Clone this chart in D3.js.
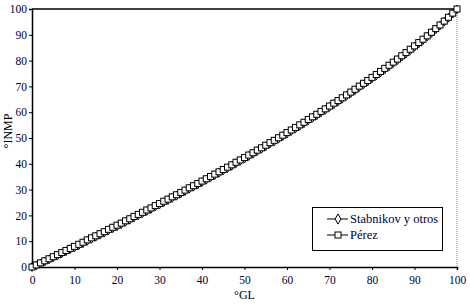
<!DOCTYPE html>
<html>
<head>
<meta charset="utf-8">
<script src="https://d3js.org/d3.v7.min.js"></script>
<style>
  body { margin: 0; background: #fff; }
  text { font-family: "Liberation Serif", "Times New Roman", serif; }
</style>
</head>
<body>
<svg id="chart" width="470" height="305"></svg>
<script>
// °GL values 0..100
var gl = d3.range(0, 101);
var xTicks = [0, 10, 20, 30, 40, 50, 60, 70, 80, 90, 100];
var yTicks = [0, 10, 20, 30, 40, 50, 60, 70, 80, 90, 100];

var perez = [0, 0.8, 1.6, 2.4, 3.2, 4.0, 4.8, 5.6, 6.4, 7.2, 8.0,
  8.8, 9.6, 10.5, 11.3, 12.1, 12.9, 13.7, 14.6, 15.4, 16.2,
  17.0, 17.9, 18.7, 19.6, 20.4, 21.2, 22.1, 22.9, 23.8, 24.6,
  25.5, 26.3, 27.2, 28.0, 28.9, 29.8, 30.7, 31.5, 32.4, 33.3,
  34.2, 35.1, 36.0, 36.9, 37.8, 38.7, 39.6, 40.6, 41.5, 42.4,
  43.4, 44.3, 45.3, 46.2, 47.2, 48.2, 49.1, 50.1, 51.1, 52.1,
  53.1, 54.1, 55.1, 56.1, 57.2, 58.2, 59.2, 60.3, 61.3, 62.4,
  63.5, 64.5, 65.6, 66.7, 67.8, 68.9, 70.1, 71.2, 72.3, 73.5,
  74.6, 75.8, 77.0, 78.2, 79.4, 80.6, 81.9, 83.1, 84.4, 85.7,
  87.0, 88.3, 89.6, 91.0, 92.4, 93.8, 95.3, 96.8, 98.4, 100];

var stabnikov = [0, 0.6, 1.4, 2.2, 2.9, 3.7, 4.5, 5.3, 6.1, 6.9, 7.6,
  8.4, 9.2, 10.1, 10.9, 11.7, 12.5, 13.3, 14.2, 15.0, 15.8,
  16.6, 17.5, 18.3, 19.2, 20.0, 20.8, 21.7, 22.5, 23.4, 24.2,
  25.1, 25.9, 26.8, 27.6, 28.5, 29.4, 30.3, 31.1, 32.0, 32.9,
  33.8, 34.7, 35.6, 36.5, 37.4, 38.3, 39.2, 40.2, 41.1, 42.0,
  43.0, 43.9, 44.9, 45.8, 46.8, 47.8, 48.7, 49.7, 50.7, 51.7,
  52.7, 53.7, 54.7, 55.7, 56.8, 57.8, 58.8, 59.9, 60.9, 62.0,
  63.1, 64.1, 65.2, 66.3, 67.4, 68.5, 69.7, 70.8, 71.9, 73.1,
  74.2, 75.4, 76.6, 77.8, 79.0, 80.2, 81.5, 82.7, 84.0, 85.3,
  86.6, 87.9, 89.3, 90.7, 92.1, 93.6, 95.1, 96.6, 98.2, 99.8];

var seriesNames = ["Stabnikov y otros", "Pérez"];

var svg = d3.select("#chart");
var L = 32, R = 457, T = 9, B = 267;
var x = d3.scaleLinear().domain([0, 100]).range([L, R]);
var y = d3.scaleLinear().domain([0, 100]).range([B, T]);

// frame: top solid, right dotted
svg.append("line").attr("x1", L).attr("x2", R).attr("y1", T).attr("y2", T)
  .attr("stroke", "#000").attr("stroke-width", 1.5);
svg.append("line").attr("x1", R).attr("x2", R).attr("y1", T).attr("y2", B)
  .attr("stroke", "#888").attr("stroke-dasharray", "1,1");

var xAxis = svg.append("g").attr("transform", "translate(0," + B + ")")
  .call(d3.axisBottom(x).tickValues(xTicks).tickSize(3).tickPadding(6).tickFormat(d3.format("d")));
var yAxis = svg.append("g").attr("transform", "translate(" + L + ",0)")
  .call(d3.axisLeft(y).tickValues(yTicks).tickSize(3).tickPadding(2).tickFormat(d3.format("d")));

[xAxis, yAxis].forEach(function(g) {
  g.select(".domain").attr("stroke", "#000").attr("stroke-width", 1.5);
  g.selectAll(".tick line").attr("stroke", "#000");
  g.selectAll(".tick text").attr("fill", "#000033").style("font-size", "11.5px")
    .style("font-family", "'Liberation Serif', serif");
});

svg.append("text").attr("x", x(50)).attr("y", 299).attr("text-anchor", "middle")
  .style("font-size", "12px").text("°GL");
svg.append("text").attr("transform", "translate(12,131) rotate(-90)")
  .attr("text-anchor", "middle").style("font-size", "12px").text("°INMP");

var line = d3.line().x(function(d) { return x(d[0]); }).y(function(d) { return y(d[1]); });
var sData = gl.map(function(v, i) { return [v, stabnikov[i]]; });
var pData = gl.map(function(v, i) { return [v, perez[i]]; });

svg.append("path").datum(sData).attr("d", line).attr("fill", "none")
  .attr("stroke", "#000").attr("stroke-width", 1.5);
var diamond = d3.symbol().type(d3.symbolDiamond).size(22);
svg.selectAll(".dia").data(sData).enter().append("path").attr("class", "dia")
  .attr("d", diamond).attr("transform", function(d) { return "translate(" + x(d[0]) + "," + y(d[1]) + ")"; })
  .attr("fill", "#fff").attr("stroke", "#000").attr("stroke-width", 1);

svg.append("path").datum(pData).attr("d", line).attr("fill", "none")
  .attr("stroke", "#000").attr("stroke-width", 1);
svg.selectAll(".sq").data(pData).enter().append("rect").attr("class", "sq")
  .attr("x", function(d) { return x(d[0]) - 3; }).attr("y", function(d) { return y(d[1]) - 3; })
  .attr("width", 6).attr("height", 6)
  .attr("fill", "#fff").attr("stroke", "#000").attr("stroke-width", 1);

// legend
var lg = svg.append("g");
lg.append("rect").attr("x", 312.5).attr("y", 207.5).attr("width", 130).attr("height", 43)
  .attr("fill", "#fff").attr("stroke", "#000");
seriesNames.forEach(function(name, i) {
  var yy = 219 + i * 16;
  lg.append("line").attr("x1", 327).attr("x2", 348).attr("y1", yy).attr("y2", yy).attr("stroke", "#000");
  if (i === 0) {
    lg.append("path").attr("d", d3.symbol().type(d3.symbolDiamond).size(30))
      .attr("transform", "translate(338," + yy + ")").attr("fill", "#fff").attr("stroke", "#000");
  } else {
    lg.append("rect").attr("x", 335).attr("y", yy - 3).attr("width", 6).attr("height", 6)
      .attr("fill", "#fff").attr("stroke", "#000");
  }
  lg.append("text").attr("x", 350).attr("y", yy + 4).style("font-size", "12.5px")
    .attr("fill", "#000033").text(name);
});
</script>
</body>
</html>
